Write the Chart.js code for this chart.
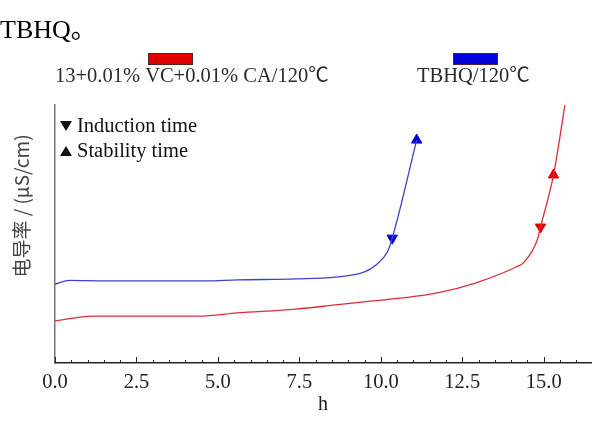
<!DOCTYPE html>
<html>
<head>
<meta charset="utf-8">
<script src="https://cdn.jsdelivr.net/npm/chart.js@4.4.0/dist/chart.umd.min.js"></script>
<style>
  html, body { margin: 0; padding: 0; background: #fff; }
  #wrap { position: relative; width: 598px; height: 421px; }
</style>
</head>
<body>
<div id="wrap"><canvas id="myChart" width="598" height="421"></canvas></div>
<script>
// series names + colours
const seriesLabels = ['13+0.01% VC+0.01% CA/120\u2103', 'TBHQ/120\u2103'];
const lineColors = ['#de2c38', '#4040cc'];
const markerColors = ['#e00000', '#0000dd'];

// conductivity curves (y in arbitrary units, 0..100 on the axis)
const redX  = [0, 1.15, 3, 4.4, 5.6, 7.4, 8.6, 9.4, 11.7, 12.9, 14.15, 14.4, 14.8, 14.9, 15.3, 15.65];
const redY  = [16.3, 18.2, 18.2, 18.2, 19.4, 20.9, 22.5, 23.6, 27.1, 31.0, 37.2, 39.1, 47.7, 52.7, 72.9, 100];
const blueX = [0, 0.45, 1.5, 3, 4.6, 5.6, 7.4, 8.6, 9.5, 9.85, 10.2, 10.35, 11.1];
const blueY = [30.6, 32.0, 31.8, 31.8, 31.8, 32.2, 32.6, 33.3, 35.3, 38.0, 43.0, 48.4, 86.4];

// induction / stability markers (red, blue)
const inductionX = [14.9, 10.35];
const inductionY = [52.7, 48.4];
const stabilityX = [15.3, 11.1];
const stabilityY = [72.9, 86.4];
const markerNames = ['Induction time', 'Stability time'];

const xTicks = [0, 2.5, 5, 7.5, 10, 12.5, 15];
const xTitle = 'h';
const yTitle = '电导率 / (μS/cm)';
const headText = 'TBHQ。';

const serif = '"Liberation Serif", "Noto Sans CJK SC", serif';

function pts(xs, ys) {
    return xs.map((x, i) => ({ x: x, y: ys[i] }));
}

// extra drawing: inward ticks, legends, rotated y title, heading text
const decor = {
    id: 'decor',
    afterDraw(chart) {
        const ctx = chart.ctx;
        const xs = chart.scales.x;
        const area = chart.chartArea;
        ctx.save();

        // inward tick marks, minor every 0.5
        ctx.strokeStyle = '#222';
        ctx.lineWidth = 1;
        for (let v = 0; v <= xs.max; v += 0.5) {
            const px = Math.round(xs.getPixelForValue(v)) + 0.5;
            const major = xTicks.includes(v);
            ctx.beginPath();
            ctx.moveTo(px, area.bottom);
            ctx.lineTo(px, area.bottom - (major ? 6 : 3));
            ctx.stroke();
        }

        // heading text from the page
        ctx.fillStyle = '#000';
        ctx.font = '26px ' + serif;
        ctx.textAlign = 'left';
        ctx.textBaseline = 'alphabetic';
        ctx.fillText(headText, 0, 38);

        // top legend: box above the label
        const slots = [{ textX: 55, boxX: 148 }, { textX: 417, boxX: 453 }];
        ctx.font = '20.5px ' + serif;
        seriesLabels.forEach((lab, i) => {
            const s = slots[i];
            ctx.fillStyle = markerColors[i];
            ctx.fillRect(s.boxX, 53, 45, 12);
            ctx.strokeStyle = '#552222';
            ctx.lineWidth = 1;
            ctx.strokeRect(s.boxX + 0.5, 53.5, 44, 11);
            ctx.fillStyle = '#2a2a2a';
            ctx.fillText(lab, s.textX, 82);
        });

        // inner marker legend
        ctx.fillStyle = '#111';
        markerNames.forEach((name, i) => {
            const cy = 126 + i * 25;
            ctx.beginPath();
            if (i === 0) {
                ctx.moveTo(60, cy - 5); ctx.lineTo(72, cy - 5); ctx.lineTo(66, cy + 5);
            } else {
                ctx.moveTo(60, cy + 5); ctx.lineTo(72, cy + 5); ctx.lineTo(66, cy - 5);
            }
            ctx.closePath();
            ctx.fill();
            ctx.textBaseline = 'middle';
            ctx.fillText(name, 77, cy + 1);
        });

        // y title
        ctx.translate(22, 206);
        ctx.rotate(-Math.PI / 2);
        ctx.textAlign = 'center';
        ctx.textBaseline = 'middle';
        ctx.fillStyle = '#444';
        ctx.font = '19px "Noto Sans CJK SC", sans-serif';
        ctx.fillText(yTitle, 0, 0);

        ctx.restore();
    }
};

const ctx = document.getElementById('myChart');

new Chart(ctx, {
    type: 'scatter',
    data: {
        datasets: [{
            label: seriesLabels[0],
            data: pts(redX, redY),
            showLine: true,
            borderColor: lineColors[0],
            borderWidth: 1.3,
            pointRadius: 0,
            cubicInterpolationMode: 'monotone'
        }, {
            label: seriesLabels[1],
            data: pts(blueX, blueY),
            showLine: true,
            borderColor: lineColors[1],
            borderWidth: 1.3,
            pointRadius: 0,
            cubicInterpolationMode: 'monotone'
        }, {
            label: markerNames[0],
            data: pts(inductionX, inductionY),
            pointStyle: 'triangle',
            rotation: 180,
            pointRadius: 6,
            backgroundColor: markerColors,
            borderColor: markerColors
        }, {
            label: markerNames[1],
            data: pts(stabilityX, stabilityY),
            pointStyle: 'triangle',
            pointRadius: 6,
            backgroundColor: markerColors,
            borderColor: markerColors
        }]
    },
    options: {
        responsive: false,
        animation: false,
        devicePixelRatio: 1,
        layout: { padding: { top: 105, right: 0, left: 0, bottom: 0 } },
        plugins: {
            legend: { display: false },
            tooltip: { enabled: false }
        },
        scales: {
            x: {
                type: 'linear',
                min: 0,
                max: 16.45,
                grid: { display: false, drawTicks: false },
                border: { color: '#222', width: 1.5 },
                ticks: {
                    stepSize: 2.5,
                    includeBounds: false,
                    padding: 7,
                    color: '#222',
                    font: { family: serif, size: 20.5 },
                    callback: v => v.toFixed(1)
                },
                title: {
                    display: true,
                    text: xTitle,
                    color: '#222',
                    font: { family: serif, size: 20 },
                    padding: { top: 0, bottom: 4 }
                },
                afterFit: s => { s.height = 58; }
            },
            y: {
                min: 0,
                max: 100,
                grid: { display: false, drawTicks: false },
                border: { color: '#777', width: 1.5 },
                ticks: { display: false },
                afterFit: s => { s.width = 55; }
            }
        }
    },
    plugins: [decor]
});
</script>
</body>
</html>
